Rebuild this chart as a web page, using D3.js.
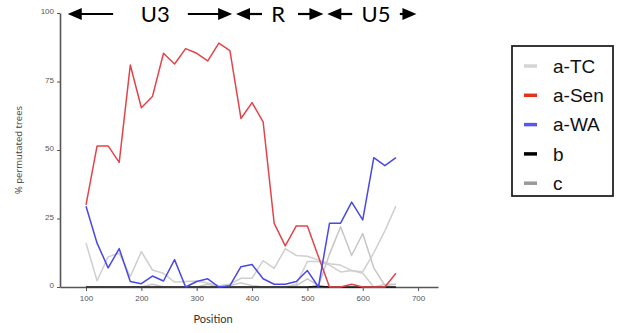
<!DOCTYPE html>
<html><head><meta charset="utf-8">
<script src="https://cdn.jsdelivr.net/npm/d3@7"></script>
<style>
html,body{margin:0;padding:0;background:#fff;}
svg{display:block;}
</style></head>
<body>
<svg id="chart" width="620" height="333"></svg>
<script>
// ---- data ----
const positions = [100,120,140,160,180,200,220,240,260,280,300,320,340,360,380,400,420,440,460,480,500,520,540,560,580,600,620,640,660];
const aTC   = [16,2.3,11,12.3,3.8,12.9,6.2,5,1.8,2,2.2,1.5,0.5,1,3.2,3.2,9.6,6.8,14,11.5,11.2,9.8,8.5,8,6,5.5,12.5,20.5,29.5];
const aTC2  = [0,0,0,0,0,0,0,0,0,0,0,0,0,0,0,0,0,0,0,1,9.3,9.3,8,5.5,6,5,0,1,1];
const aSen  = [30,51.5,51.5,45.5,81,65.4,69.5,85.3,81.4,87,85.3,82.5,89,86.3,61.5,67.3,60.3,23.2,15,22.3,22.3,11,0,0,1,0,0,0,5];
const aWA   = [29.5,16,7,14,2,1.2,4,2.2,10,0,2,3,0,0.5,7.4,8.2,3,1,1,2,6,0,23.3,23.3,31,24.5,47.2,44.3,47.2];
const bVals = [0,0,0,0,0,0,0,0,0,0,0,0,0,0,0,0,0,0,0,0,0,0.3,0,0,0,0,0,0,0];
const cVals = [0,0,0,0,0,0,1,0,0,0,0,1,0,0.5,1.5,0.5,0,0,0,0.5,3,0.5,12,22,11.5,19.5,7,0.5,1];
const legendNames = ["a-TC","a-Sen","a-WA","b","c"];
const xTicks = [100,200,300,400,500,600,700];
const yTicks = [0,25,50,75,100];
// genome regions (in position units): arrow tips, label centre, arrow tails
const regionNames  = ["U3","R","U5"];
const regionStart  = [67,371,536];
const regionEnd    = [364,529,697];
const regionLabel  = [225,447,624];
const regionTailL  = [149,418,581];
const regionTailR  = [284,483,667];

const colors = {"a-TC":"#cfcfcf","a-Sen":"#e3444a","a-WA":"#4848e8","b":"#111111","c":"#c6c6c6"};
const legendColors = {"a-TC":"#d4d4d4","a-Sen":"#e2331f","a-WA":"#5656f2","b":"#000000","c":"#999999"};

const lines = [
  {key:"a-TC", values:aTC},
  {key:"a-TC", values:aTC2},
  {key:"c", values:cVals},
  {key:"b", values:bVals},
  {key:"a-Sen", values:aSen},
  {key:"a-WA", values:aWA}
];

const svg = d3.select("#chart");
const x = d3.scaleLinear().domain([53,736]).range([60,438]);
const y = d3.scaleLinear().domain([0,100]).range([287,13]);

// axes
const xAxis = svg.append("g").attr("transform","translate(0,287)")
  .call(d3.axisBottom(x).tickValues(xTicks).tickSize(4).tickSizeOuter(0).tickPadding(4));
const yAxis = svg.append("g").attr("transform","translate(60,0)")
  .call(d3.axisLeft(y).tickValues(yTicks).tickSize(3).tickSizeOuter(0).tickPadding(3));
[xAxis,yAxis].forEach(g=>{
  g.select(".domain").attr("stroke","#555").attr("stroke-width",1.6);
  g.selectAll(".tick line").attr("stroke","#555").attr("stroke-width",1);
  g.selectAll(".tick text").attr("fill","#555").attr("font-family","Liberation Sans, Arial, sans-serif").attr("font-size",8);
});
yAxis.selectAll(".tick text").attr("dy","0.1em");

// lines
const line = d3.line().x((d,i)=>x(positions[i])).y(d=>y(d));
svg.append("g").selectAll("path").data(lines).join("path")
  .attr("d",d=>line(d.values))
  .attr("fill","none")
  .attr("stroke",d=>colors[d.key])
  .attr("stroke-width",1.5)
  .attr("stroke-linejoin","round");

// axis labels
svg.append("text").attr("x",213).attr("y",323).attr("text-anchor","middle")
  .attr("font-family","Lato, Open Sans, sans-serif").attr("font-size",11).attr("fill","#333").text("Position");
svg.append("text").attr("transform","translate(22,150) rotate(-90)").attr("text-anchor","middle")
  .attr("font-family","Open Sans, sans-serif").attr("font-size",9.5).attr("fill","#444").text("% permutated trees");

// region arrows
const ay = 14;
function arrow(x1,x2){
  const dir = Math.sign(x2-x1);
  svg.append("line").attr("x1",x1).attr("x2",x2-dir*10).attr("y1",ay).attr("y2",ay)
    .attr("stroke","#000").attr("stroke-width",2.2);
  svg.append("path").attr("d",`M${x2},${ay} L${x2-dir*14},${ay-6} L${x2-dir*14},${ay+6} Z`).attr("fill","#000");
}
regionNames.forEach((n,i)=>{
  svg.append("text").attr("x",x(regionLabel[i])).attr("y",ay+8).attr("text-anchor","middle")
    .attr("font-family","Lato, Open Sans, sans-serif").attr("font-size",22).attr("fill","#000").text(n);
  arrow(x(regionTailL[i]), x(regionStart[i]));
  arrow(x(regionTailR[i]), x(regionEnd[i]));
});

// legend
const lg = svg.append("g");
lg.append("rect").attr("x",512).attr("y",46).attr("width",101).attr("height",150)
  .attr("fill","#fff").attr("stroke","#222").attr("stroke-width",1.8);
legendNames.forEach((n,i)=>{
  const yy = 66 + i*29.3;
  lg.append("line").attr("x1",524).attr("x2",537).attr("y1",yy).attr("y2",yy)
    .attr("stroke",legendColors[n]).attr("stroke-width",3.5);
  lg.append("text").attr("x",553).attr("y",yy).attr("dy","0.35em")
    .attr("font-family","Liberation Sans, Arial, sans-serif").attr("font-size",19).attr("fill","#111").text(n);
});
</script>
</body></html>
